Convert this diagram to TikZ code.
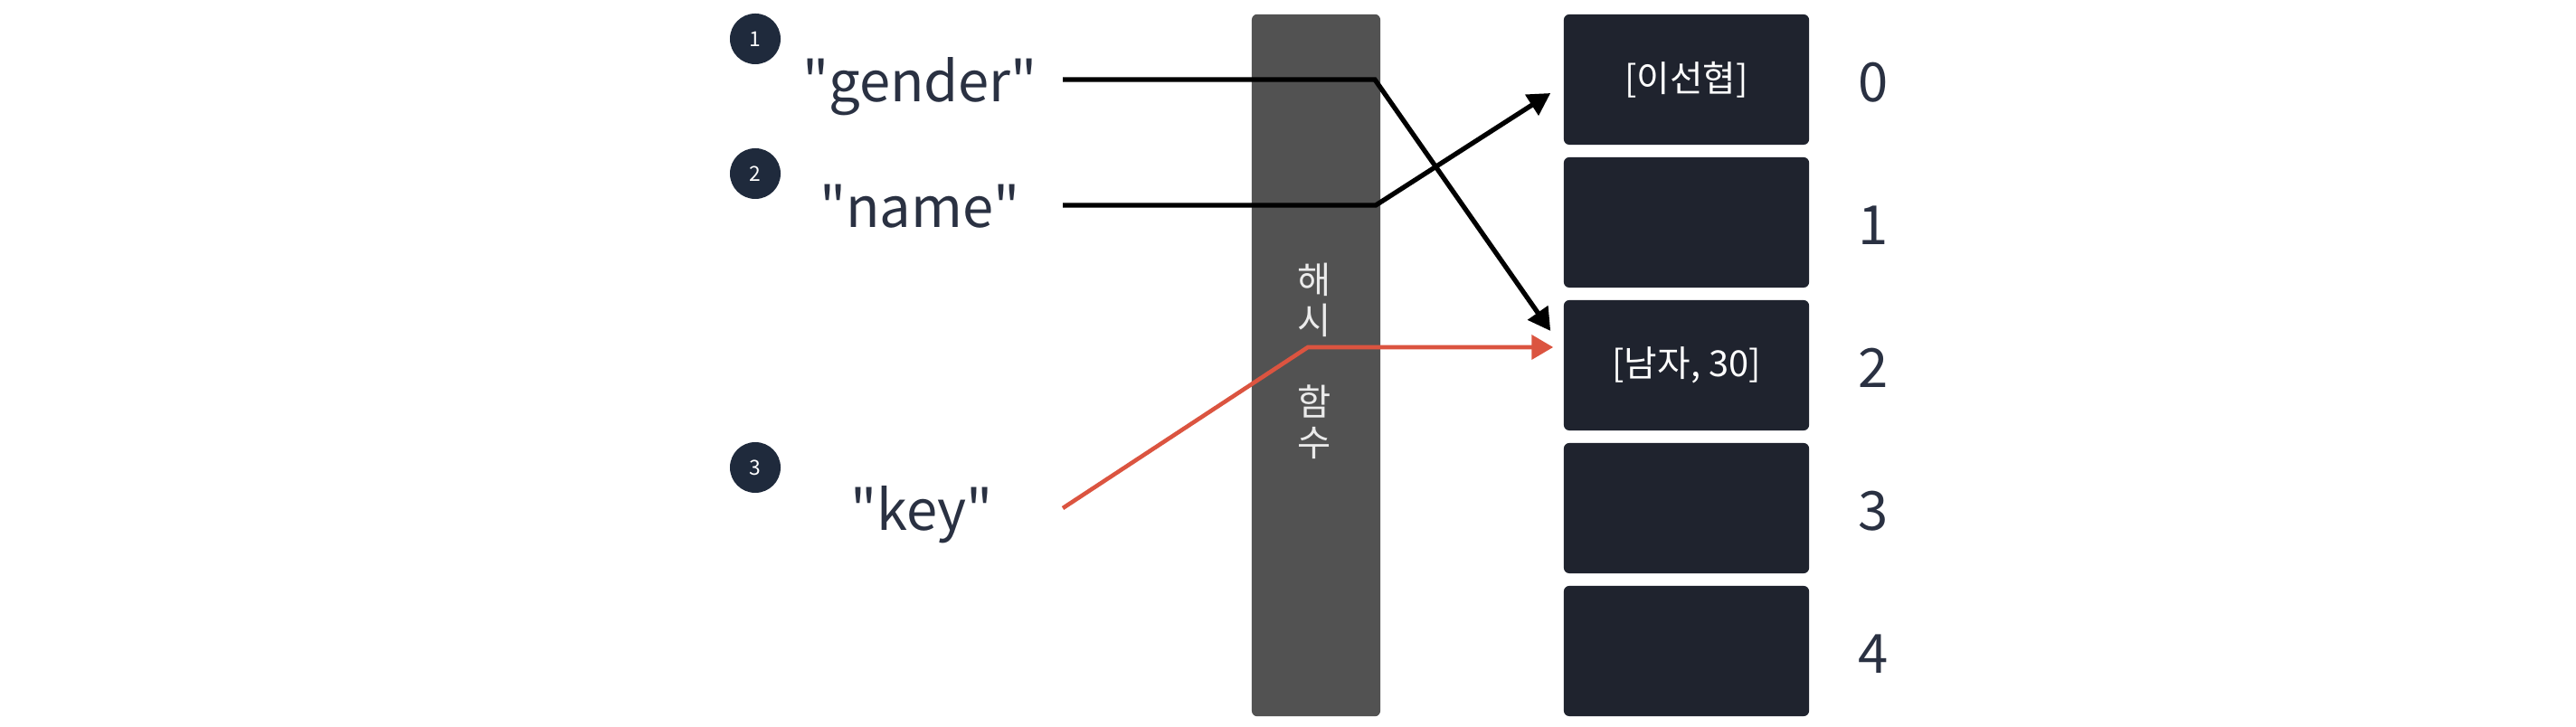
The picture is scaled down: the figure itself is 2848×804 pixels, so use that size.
\documentclass[tikz,border=0pt]{standalone}
\usepackage{fontspec}
\setmainfont{Noto Sans CJK KR}[Ligatures=TeXOff]
\usetikzlibrary{arrows.meta}
\definecolor{slotfill}{HTML}{1F232E}
\definecolor{barfill}{HTML}{525252}
\definecolor{ink}{HTML}{2A3142}
\definecolor{badgefill}{HTML}{1F2A3C}
\definecolor{hot}{HTML}{DB5440}
\tikzset{
  slot/.style={fill=slotfill, rounded corners=0.06cm, minimum width=2.71cm, minimum height=1.44cm, inner sep=0pt, text=white, font=\fontsize{11.3}{13}\selectfont},
  idx/.style={text=ink, font=\fontsize{17}{20}\selectfont, inner sep=0pt},
  keytext/.style={text=ink, font=\fontsize{17.5}{20}\selectfont, inner sep=0pt, anchor=base},
  badge/.style={circle, fill=badgefill, minimum size=0.56cm, inner sep=0pt, text=white, font=\fontsize{6.5}{7}\selectfont},
  hashbar/.style={fill=barfill, rounded corners=0.06cm, minimum width=1.42cm, minimum height=7.76cm, inner sep=0pt},
  link/.style={draw=black, line width=1.5pt, -{Triangle[length=7pt,width=7.5pt]}},
  hotlink/.style={draw=hot, line width=1.3pt, -{Triangle[length=6.8pt,width=7.6pt]}}
}
\begin{document}
\begin{tikzpicture}[x=0.01cm,y=-0.01cm]
\useasboundingbox (0,0) rectangle (2848,804);
% hash function bar
\node[hashbar] (bar) at (1455,404) {};
\node[text=white!92!black, font=\fontsize{11.5}{12.8}\selectfont, align=center, inner sep=0pt] (barlabel) at (1453,399) {해\\시\\~\\함\\수};
% slots
\node[slot] (s0) at (1864.5,88) {[이선협]};
\node[slot] (s1) at (1864.5,246) {};
\node[slot] (s2) at (1864.5,404) {[남자, 30]};
\node[slot] (s3) at (1864.5,562) {};
\node[slot] (s4) at (1864.5,720) {};
% indices
\node[idx] (i0) at (2071,91) {0};
\node[idx] (i1) at (2071,249) {1};
\node[idx] (i2) at (2071,407) {2};
\node[idx] (i3) at (2071,565) {3};
\node[idx] (i4) at (2071,723) {4};
% badges
\node[badge] (b1) at (835,43) {1};
\node[badge] (b2) at (835,192) {2};
\node[badge] (b3) at (835,517) {3};
% keys
\node[keytext] (kgender) at (1017,113) {"gender"};
\node[keytext] (kname) at (1017,252) {"name"};
\node[keytext] (kkey) at (1019,587) {"key"};
% connector points
\coordinate (gstart) at (1175,88);
\coordinate (gbend) at (1520,88);
\coordinate (nstart) at (1175,227);
\coordinate (nbend) at (1521,227);
\coordinate (kstart) at (1175,562);
\coordinate (kbend) at (1446,384);
% connectors
\draw[link] (gstart) -- (gbend) -- ([shift={(-14,-38)}]s2.west);
\draw[link] (nstart) -- (nbend) -- ([shift={(-14,15)}]s0.west);
\draw[hotlink] (kstart) -- (kbend) -- ([shift={(-11,-20)}]s2.west);
\end{tikzpicture}
\end{document}
